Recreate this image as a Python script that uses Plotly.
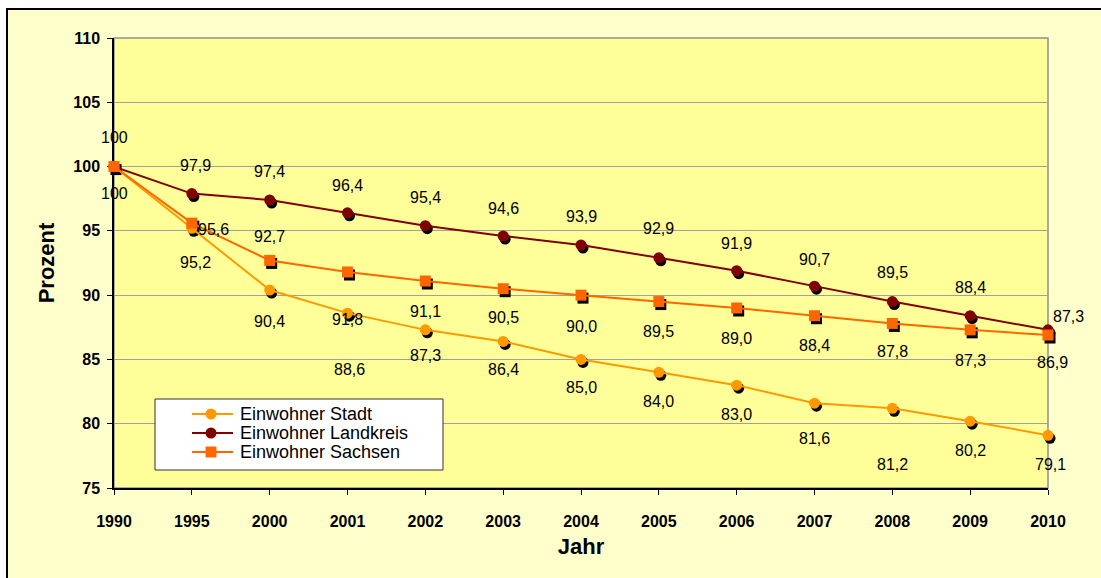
import plotly.graph_objects as go

# Bevölkerungsentwicklung, Index 1990 = 100
years = ["1990", "1995", "2000", "2001", "2002", "2003", "2004",
         "2005", "2006", "2007", "2008", "2009", "2010"]
stadt = [100, 95.2, 90.4, 88.6, 87.3, 86.4, 85.0, 84.0, 83.0, 81.6, 81.2, 80.2, 79.1]
landkreis = [100, 97.9, 97.4, 96.4, 95.4, 94.6, 93.9, 92.9, 91.9, 90.7, 89.5, 88.4, 87.3]
sachsen = [100, 95.6, 92.7, 91.8, 91.1, 90.5, 90.0, 89.5, 89.0, 88.4, 87.8, 87.3, 86.9]
y_ticks = [75, 80, 85, 90, 95, 100, 105, 110]

# label offsets in pixels (dx, dy; dy positive = up); None = no label
off_stadt = [None, (4, -34), (0, -31), (2, -56), (0, -26), (0, -28), (0, -28),
             (0, -29), (0, -29), (0, -35), (0, -56), (0, -29), (2, -29)]
off_landkreis = [(0, 29), (4, 28), (0, 29), (0, 27), (0, 28), (0, 28), (0, 29),
                 (0, 29), (0, 27), (0, 27), (0, 29), (0, 28), (20, 13)]
off_sachsen = [(0, -27), (22, -6), (0, 24), (0, -47), (0, -30), (0, -29), (0, -31),
               (0, -30), (0, -30), (0, -30), (0, -28), (0, -31), (4, -27)]

C_STADT = "#FF9900"
C_LAND = "#800000"
C_SACHSEN = "#FF6600"
FONT = "Liberation Sans, Arial"

W, H = 1101, 578
L, R, T, B = 114, 51, 38, 87
PW, PH = W - L - R, H - T - B
SDX, SDY = 2, 3  # marker shadow offset in px
MS = 11          # marker size

x = list(range(len(years)))
xr = [0, len(years) - 1]
yr = [75, 110]
main_xdom = [0, 1 - SDX / PW]
main_ydom = [SDY / PH, 1]

series = [
    ("Einwohner Stadt", stadt, C_STADT, "circle", off_stadt),
    ("Einwohner Landkreis", landkreis, C_LAND, "circle", off_landkreis),
    ("Einwohner Sachsen", sachsen, C_SACHSEN, "square", off_sachsen),
]

fig = go.Figure()

# marker shadows on their own, slightly shifted subplot (x2/y2)
for name, vals, col, sym, _ in series:
    fig.add_trace(go.Scatter(
        x=x, y=vals, mode="markers", xaxis="x2", yaxis="y2",
        marker=dict(symbol=sym, size=MS, color="black"),
        cliponaxis=False, showlegend=False, hoverinfo="skip"))

# the series themselves on x3/y3 (same placement as the visible axes)
for name, vals, col, sym, _ in series:
    fig.add_trace(go.Scatter(
        x=x, y=vals, mode="lines+markers", name=name, xaxis="x3", yaxis="y3",
        line=dict(color=col, width=2),
        marker=dict(symbol=sym, size=MS, color=col),
        cliponaxis=False, showlegend=False))


def fmt(v, i):
    if i == 0:
        return f"{v:.0f}"
    return f"{v:.1f}".replace(".", ",")


annotations = []
for name, vals, col, sym, offs in series:
    for i, v in enumerate(vals):
        o = offs[i]
        if o is None:
            continue
        annotations.append(dict(
            x=i, y=v, xref="x", yref="y", text=fmt(v, i), showarrow=False,
            xshift=o[0], yshift=o[1],
            font=dict(family=FONT, size=16, color="black")))


def px(xp):
    return (xp - L) / PW


def py(yp):
    return (H - B - yp) / PH


shapes = [
    # outer chart frame
    dict(type="rect", xref="paper", yref="paper", layer="below",
         x0=px(7), x1=px(W + 20), y0=py(H + 20), y1=py(9),
         fillcolor="#FFFFCC", line=dict(color="black", width=2)),
    # plot area
    dict(type="rect", xref="x domain", yref="y domain", layer="below",
         x0=0, x1=1, y0=0, y1=1,
         fillcolor="#FFFF99", line=dict(color="#909090", width=1.5)),
]

# legend box
lg_x0, lg_x1, lg_y0, lg_y1 = 155, 443, 399, 470
shapes.append(dict(type="rect", xref="paper", yref="paper", layer="above",
                   x0=px(lg_x0), x1=px(lg_x1), y0=py(lg_y1), y1=py(lg_y0),
                   fillcolor="white", line=dict(color="#333333", width=1)))
row_y = [414, 433, 452]
for (name, vals, col, sym, _), ry in zip(series, row_y):
    shapes.append(dict(type="line", xref="paper", yref="paper", layer="above",
                       x0=px(192), x1=px(233), y0=py(ry), y1=py(ry),
                       line=dict(color=col, width=2)))
    r = MS / 2
    shapes.append(dict(type="circle" if sym == "circle" else "rect",
                       xref="paper", yref="paper", layer="above",
                       x0=px(211 - r), x1=px(211 + r), y0=py(ry + r), y1=py(ry - r),
                       fillcolor=col, line=dict(color=col, width=0)))
    annotations.append(dict(
        x=px(238), y=py(ry), xref="paper", yref="paper", text=name,
        showarrow=False, xanchor="left", yanchor="middle",
        font=dict(family=FONT, size=18, color="black")))

fig.update_layout(
    width=W, height=H,
    margin=dict(l=L, r=R, t=T, b=B),
    paper_bgcolor="white",
    plot_bgcolor="rgba(0,0,0,0)",
    font=dict(family=FONT, color="black"),
    shapes=shapes,
    annotations=annotations,
    showlegend=False,
    xaxis=dict(
        domain=main_xdom, range=xr, tickvals=x, ticktext=years,
        showgrid=False, zeroline=False,
        showline=True, linecolor="black", linewidth=1.5,
        ticks="outside", ticklen=5, tickcolor="black", tickwidth=1,
        ticklabelstandoff=13,
        tickfont=dict(size=16, family=FONT, weight="bold"),
        title=dict(text="Jahr", standoff=10,
                   font=dict(size=22, family=FONT, weight="bold"))),
    yaxis=dict(
        domain=main_ydom, range=yr, tickvals=y_ticks,
        showgrid=True, gridcolor="#A0A0A0", gridwidth=1, zeroline=False,
        showline=True, linecolor="black", linewidth=1.5,
        ticks="outside", ticklen=5, tickcolor="black", tickwidth=1,
        ticklabelstandoff=4,
        tickfont=dict(size=16, family=FONT, weight="bold"),
        title=dict(text="Prozent", standoff=13,
                   font=dict(size=22, family=FONT, weight="bold"))),
    xaxis2=dict(domain=[SDX / PW, 1], range=xr, visible=False, anchor="y2"),
    yaxis2=dict(domain=[0, 1 - SDY / PH], range=yr, visible=False, anchor="x2"),
    xaxis3=dict(domain=main_xdom, range=xr, visible=False, anchor="y3"),
    yaxis3=dict(domain=main_ydom, range=yr, visible=False, anchor="x3"),
)

fig.write_html("out.html")
